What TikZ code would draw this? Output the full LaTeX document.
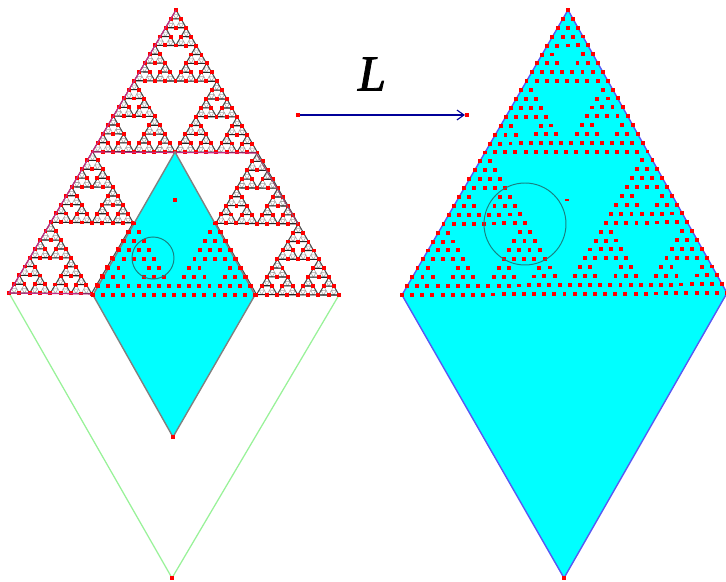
\documentclass[tikz,border=0pt]{standalone}
\usepackage{fontspec}
\setmainfont{Liberation Serif}
\usetikzlibrary{arrows.meta,positioning,calc}

\definecolor{softgreen}{rgb}{0.6,0.95,0.6}
\definecolor{softblue}{rgb}{0.35,0.35,0.95}
\definecolor{aqua}{rgb}{0,1,1}

% Unit triangle: apex (0,0), left (0,1), right (1,1)
\newcommand{\gasket}[3]{%
  \ifnum#1>0
    \foreach \sx/\sy in {0/0,0/.5,.5/.5}{%
      \begin{scope}[shift={(\sx,\sy)},scale=.5]
        \gasket{\numexpr#1-1\relax}{#2}{#3}
      \end{scope}}%
    #3{#1}%
  \else
    #2%
  \fi}
\newcommand{\cellface}{\draw[cell line] (0,0) -- (0,1) -- (1,1) -- cycle;}
\newcommand{\cellbase}[1]{%
  \ifnum#1=1 \draw[base line] (0,1) -- (1,1); \fi
  \ifnum#1=2 \draw[side line] (0,0) -- (0,1) (1,1) -- (0,0); \fi}
\newcommand{\nobase}[1]{}
\newcommand{\celldots}{%
  \node[red dot] at (0,0) {};
  \node[red dot] at (0,1) {};
  \node[red dot] at (1,1) {};}
\newcommand{\filldots}{%
  \foreach \r in {0,...,4}{\foreach \c in {0,...,\r}{\node[red dot] at ($(\c/4,\r/4)$) {};}}}

\begin{document}
\begin{tikzpicture}[
    x=0.025cm, y=-0.025cm,
    >={Straight Barb[length=5pt,width=7pt]},
    red dot/.style={rectangle, fill=red, inner sep=0pt, minimum size=2.8pt},
    cell line/.style={gray!70, line width=0.4pt},
    base line/.style={black!85, line width=0.8pt},
    side line/.style={black!70, line width=0.7pt},
    edge line/.style={magenta!80!black, line width=0.8pt},
    big frame/.style={shift={(176,10)}, x={(8.25cm,-0.05cm)}, y={(-4.175cm,-7.075cm)}},
    small frame/.style={shift={(175,152)}, x={(4.05cm,0cm)}, y={(-2.05cm,-3.575cm)}},
    image frame/.style={shift={(568,10)}, x={(8.125cm,0.05cm)}, y={(-4.15cm,-7.125cm)}},
    ring/.style={draw=teal!80!gray, line width=0.7pt},
]
\useasboundingbox (0,0) rectangle (726,582);

% Left figure
\coordinate (lefttip) at (9,293);
\coordinate (righttip) at (339,295);
\coordinate (bottomtip) at (172,578);
\draw[softgreen, line width=0.9pt] (lefttip) -- (bottomtip) -- (righttip);

\begin{scope}[big frame]
    \gasket{6}{\cellface}{\cellbase}
    \gasket{5}{\celldots}{\nobase}
\end{scope}

% Edges
\draw[edge line] (176,10) -- (lefttip) -- (93,294);
\draw[edge line] (92,152) -- (256,153);
\draw[edge line, black!50!magenta] (256,153) -- (298,224);

% Left diamond
\coordinate (dtop) at (175,152);
\coordinate (dleft) at (93,295);
\coordinate (dbottom) at (173,437);
\coordinate (dright) at (255,295);
\fill[aqua] (dtop) -- (dleft) -- (dbottom) -- (dright) -- cycle;
\draw[gray, line width=1pt] (dtop) -- (dleft) -- (dbottom) -- (dright) -- cycle;

\begin{scope}[small frame]
    \begin{scope}[shift={(0,.5)},scale=.5]
        \gasket{1}{\filldots}{\nobase}
    \end{scope}
    \begin{scope}[shift={(.5,.5)},scale=.5]
        \gasket{1}{\filldots}{\nobase}
    \end{scope}
\end{scope}
\node[red dot, minimum size=3pt] (dcentre) at (175,200) {};
\node[red dot, minimum size=3pt] (dlow) at (dbottom) {};
\node[red dot, minimum size=2.5pt] (glow) at (bottomtip) {};
\draw[ring] (153,258) circle (21);

% Map
\node[red dot, minimum size=2.5pt] (mapfrom) at (298,115) {};
\node[red dot, minimum size=2.5pt] (mapto) at (467,115) {};
\draw[->, blue!60!black, line width=0.8pt] (mapfrom) -- (mapto);
\node[font=\fontsize{36}{36}\selectfont\itshape\addfontfeatures{FakeBold=1.5}] (maplabel) at (372,74) {L};

% Right diamond
\coordinate (itop) at (568,10);
\coordinate (ileft) at (402,295);
\coordinate (ibottom) at (564,578);
\coordinate (iright) at (727,293);
\fill[aqua] (itop) -- (ileft) -- (ibottom) -- (iright) -- cycle;
\draw[softblue, line width=1pt] (itop) -- (ileft) -- (ibottom) -- (iright) -- cycle;

\begin{scope}[image frame]
    \gasket{3}{\filldots}{\nobase}
\end{scope}
\node[red dot, minimum width=3pt, minimum height=1pt] (idash) at (567,200) {};
\node[red dot, minimum size=2.5pt] (ilow) at (ibottom) {};
\draw[ring] (525,224) circle (41);

\end{tikzpicture}
\end{document}
